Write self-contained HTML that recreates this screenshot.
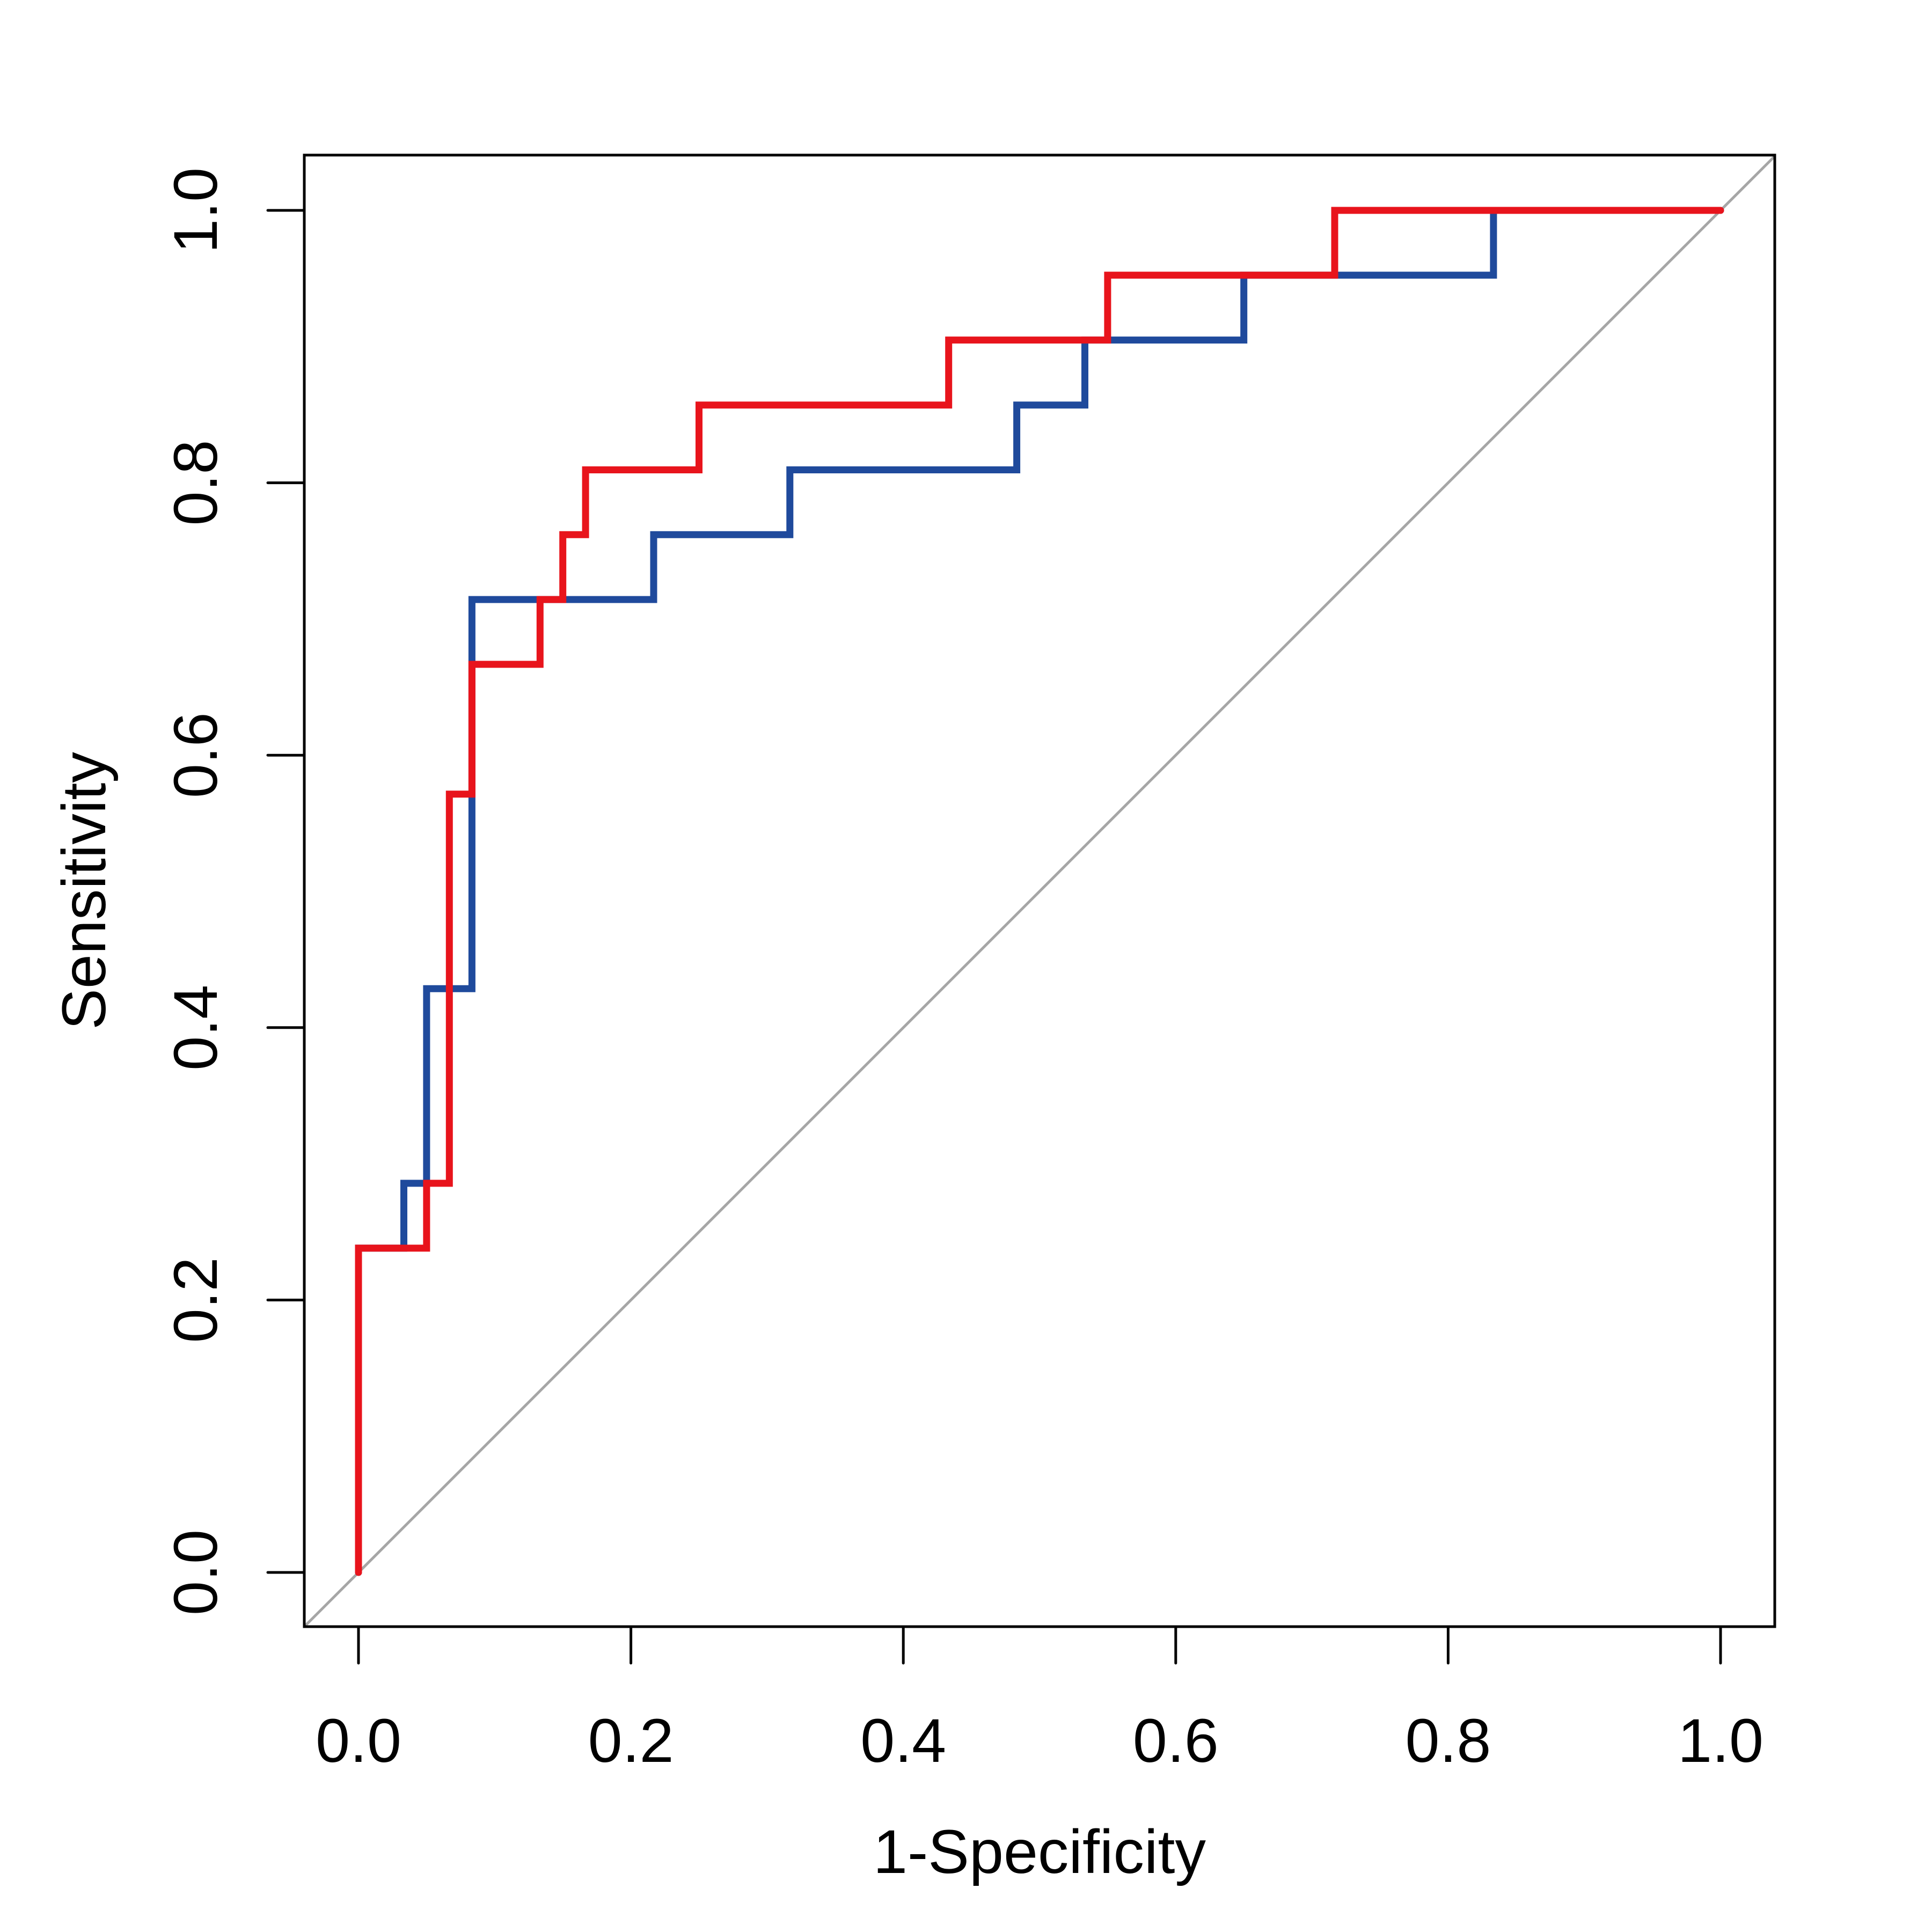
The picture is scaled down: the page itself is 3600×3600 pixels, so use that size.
<!DOCTYPE html>
<html><head><meta charset="utf-8"><style>html,body{margin:0;padding:0;background:#fff}svg{display:block}text{font-family:"Liberation Sans",Arial,sans-serif;fill:#000}</style></head>
<body>
<svg id="chart" width="3600" height="3600" viewBox="0 0 3600 3600" xmlns="http://www.w3.org/2000/svg">
<rect x="0" y="0" width="3600" height="3600" fill="#fff"/>
<g id="plot"></g>
</svg>
<script>
const xTicks = [0, 0.2, 0.4, 0.6, 0.8, 1.0];
const yTicks = [0, 0.2, 0.4, 0.6, 0.8, 1.0];
const tickLabels = ["0.0", "0.2", "0.4", "0.6", "0.8", "1.0"];
const blueFpr = [0, 0, 0.0333, 0.05, 0.0833, 0.2167, 0.3167, 0.4833, 0.5333, 0.65, 0.8333, 1.0];
const blueTpr = [0, 0.2381, 0.2857, 0.4286, 0.7143, 0.7619, 0.8095, 0.8571, 0.9048, 0.9524, 1.0, 1.0];
const redFpr = [0, 0, 0.05, 0.0667, 0.0833, 0.1333, 0.15, 0.1667, 0.25, 0.4333, 0.55, 0.7167, 1.0];
const redTpr = [0, 0.2381, 0.2857, 0.5714, 0.6667, 0.7143, 0.7619, 0.8095, 0.8571, 0.9048, 0.9524, 1.0, 1.0];

const NS = "http://www.w3.org/2000/svg";
const g = document.getElementById('plot');
const X0 = 668, X1 = 3206, Y0 = 2930, Y1 = 392;
const BOX = {l: 567, r: 3307, t: 289, b: 3031};
function sx(v){ return X0 + v*(X1-X0); }
function sy(v){ return Y0 - v*(Y0-Y1); }
function mk(tag, attrs){ const e=document.createElementNS(NS,tag); for(const k in attrs) e.setAttribute(k,attrs[k]); g.appendChild(e); return e; }

const dv0 = (BOX.l - X0)/(X1-X0), dv1 = (BOX.r - X0)/(X1-X0);
const diag = mk('line',{x1:sx(dv0),y1:sy(dv0),x2:sx(dv1),y2:sy(dv1),stroke:'#a6a6a6','stroke-width':5});



function stepPath(fx, ty){
  let d = '';
  for(let i=0;i<fx.length;i++){
    d += (i===0?'M':'L') + sx(fx[i]).toFixed(1) + ' ' + sy(ty[i]).toFixed(1) + ' ';
    if(i<fx.length-1 && fx[i+1]!==fx[i] && ty[i+1]!==ty[i]){
      d += 'L' + sx(fx[i+1]).toFixed(1) + ' ' + sy(ty[i]).toFixed(1) + ' ';
    }
  }
  return d;
}
const blue = mk('path',{d:stepPath(blueFpr,blueTpr),fill:'none',stroke:'#1f4a9c','stroke-width':13,'stroke-linejoin':'miter','stroke-linecap':'round'});


const red = mk('path',{d:stepPath(redFpr,redTpr),fill:'none',stroke:'#e8141c','stroke-width':13,'stroke-linejoin':'miter','stroke-linecap':'round'});



const box = mk('rect',{x:BOX.l,y:BOX.t,width:BOX.r-BOX.l,height:BOX.b-BOX.t,fill:'none',stroke:'#000','stroke-width':5});



xTicks.forEach((v,i)=>{
  const t = mk('line',{x1:sx(v),y1:BOX.b,x2:sx(v),y2:BOX.b+68,stroke:'#000','stroke-width':5,'stroke-linecap':'round'});
  
  
  const l = mk('text',{x:sx(v),y:3283,'font-size':115,'text-anchor':'middle'});
  l.textContent = tickLabels[i];
  
  
});
yTicks.forEach((v,i)=>{
  const t = mk('line',{x1:BOX.l,y1:sy(v),x2:BOX.l-68,y2:sy(v),stroke:'#000','stroke-width':5,'stroke-linecap':'round'});
  
  
  const l = mk('text',{x:0,y:0,'font-size':115,'text-anchor':'middle',transform:`translate(404,${sy(v)}) rotate(-90)`});
  l.textContent = tickLabels[i];
  
  
});
const xt = mk('text',{x:(BOX.l+BOX.r)/2,y:3490,'font-size':115,'text-anchor':'middle'});
xt.textContent = '1-Specificity';


const yt = mk('text',{x:0,y:0,'font-size':115,'text-anchor':'middle',transform:`translate(196,${(BOX.t+BOX.b)/2}) rotate(-90)`});
yt.textContent = 'Sensitivity';


</script>
</body></html>
